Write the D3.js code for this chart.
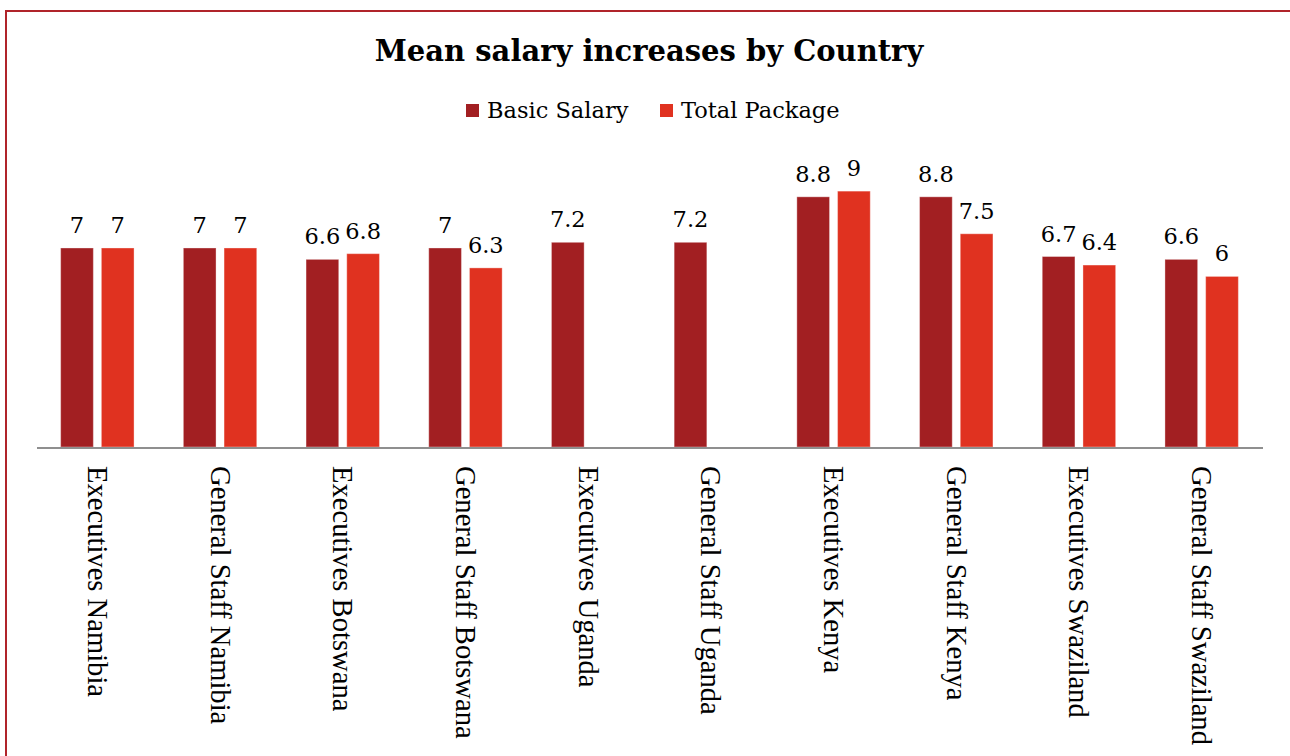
<!DOCTYPE html>
<html>
<head>
<meta charset="utf-8">
<script src="https://cdn.jsdelivr.net/npm/d3@7"></script>
<style>
  html, body { margin: 0; padding: 0; background: #fff; }
  svg { display: block; }
</style>
</head>
<body>
<svg id="chart" width="1290" height="756"></svg>
<script>
// Category labels along the x axis
const categories = [
  "Executives Namibia", "General Staff Namibia",
  "Executives Botswana", "General Staff Botswana",
  "Executives Uganda", "General Staff Uganda",
  "Executives Kenya", "General Staff Kenya",
  "Executives Swaziland", "General Staff Swaziland"
];
const seriesNames = ["Basic Salary", "Total Package"];
const basicSalary = [7, 7, 6.6, 7, 7.2, 7.2, 8.8, 8.8, 6.7, 6.6];
const totalPackage = [7, 7, 6.8, 6.3, null, null, 9, 7.5, 6.4, 6];
const seriesColors = ["#a21f22", "#e03220"];

const svg = d3.select("#chart");
const W = 1290, H = 756;

// outer frame
svg.append("rect")
  .attr("x", 6).attr("y", 11)
  .attr("width", W + 20).attr("height", H + 20)
  .attr("fill", "none")
  .attr("stroke", "#b0242a")
  .attr("stroke-width", 2);

// title
svg.append("text")
  .attr("x", 649).attr("y", 61)
  .attr("text-anchor", "middle")
  .style("font-family", "'DejaVu Serif', Georgia, serif")
  .style("font-weight", "bold")
  .style("font-size", "29px")
  .attr("fill", "#000")
  .text("Mean salary increases by Country");

// scales
const x0 = d3.scaleBand().domain(categories).range([36, 1263]).padding(0);
const x1 = d3.scaleBand().domain(seriesNames)
  .range([x0.bandwidth() / 2 - 36.7, x0.bandwidth() / 2 + 36.7])
  .paddingInner(0.197).paddingOuter(0);
const y = d3.scaleLinear().domain([0, 10]).range([447, 162.7]);
const color = d3.scaleOrdinal().domain(seriesNames).range(seriesColors);

const rows = categories.map((c, i) => ({
  category: c,
  values: [
    { series: seriesNames[0], value: basicSalary[i] },
    { series: seriesNames[1], value: totalPackage[i] }
  ].filter(d => d.value != null)
}));

const groups = svg.append("g").selectAll("g")
  .data(rows).join("g")
  .attr("transform", d => `translate(${x0(d.category)},0)`);

groups.selectAll("rect")
  .data(d => d.values).join("rect")
  .attr("x", d => x1(d.series))
  .attr("y", d => y(d.value))
  .attr("width", x1.bandwidth())
  .attr("height", d => y(0) - y(d.value))
  .attr("fill", d => color(d.series))
  .attr("stroke", "#ffffff")
  .attr("stroke-opacity", 0.35)
  .attr("stroke-width", 1);

// value labels
groups.selectAll("text.val")
  .data(d => d.values).join("text")
  .attr("class", "val")
  .attr("x", d => x1(d.series) + x1.bandwidth() / 2)
  .attr("y", d => y(d.value) - 15)
  .attr("text-anchor", "middle")
  .style("font-family", "'DejaVu Serif', Georgia, serif")
  .style("font-size", "22.5px")
  .attr("fill", "#000")
  .text(d => d.value);

// x axis
const xAxis = svg.append("g")
  .attr("transform", `translate(0,${y(0)})`)
  .call(d3.axisBottom(x0).tickSize(0).tickPadding(0));
xAxis.select(".domain")
  .attr("stroke", "#8f8f8f")
  .attr("stroke-width", 2)
  .attr("d", "M37,1H1263");
xAxis.selectAll(".tick text")
  .attr("transform", "translate(0,19) rotate(90)")
  .attr("x", 0).attr("y", 0).attr("dy", "0.33em")
  .attr("text-anchor", "start")
  .style("font-family", "'Liberation Serif', 'Times New Roman', serif")
  .style("font-size", "28.6px")
  .attr("fill", "#000");

// legend
const legend = svg.append("g").attr("transform", "translate(466,104)");
const legendOffsets = [0, 194];
seriesNames.forEach((name, i) => {
  const g = legend.append("g").attr("transform", `translate(${legendOffsets[i]},0)`);
  g.append("rect").attr("width", 13).attr("height", 13).attr("fill", seriesColors[i]);
  g.append("text")
    .attr("x", 21).attr("y", 14)
    .style("font-family", "'DejaVu Serif', Georgia, serif")
    .style("font-size", "22.5px")
    .attr("fill", "#000")
    .text(name);
});
</script>
</body>
</html>
